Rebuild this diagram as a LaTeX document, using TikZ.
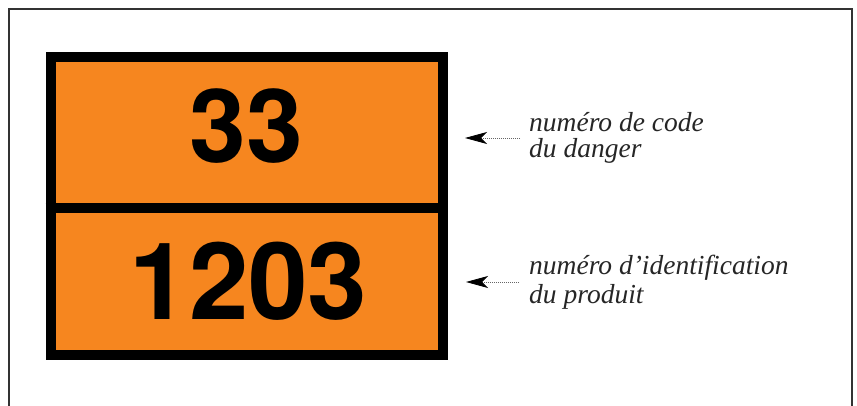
\documentclass[tikz,border=0pt]{standalone}
\usepackage{fontspec}
\newfontfamily\platefont{TeX Gyre Heros}
\newfontfamily\labelfont{Liberation Serif}
\usetikzlibrary{arrows.meta}
\definecolor{adrorange}{RGB}{246,134,31}
\tikzset{
  frameline/.style={line width=1.3pt, black!80},
  plate/.style={line width=10pt, draw=black, fill=adrorange},
  num/.style={inner sep=0pt, anchor=base, font=\platefont\bfseries\fontsize{102}{102}\selectfont},
  bignum/.style={num, font=\platefont\bfseries\fontsize{107}{107}\selectfont},
  lbl/.style={inner sep=0pt, anchor=base west, font=\labelfont\itshape\fontsize{27.5}{27.5}\selectfont, text=black!85},
  pointer/.style={line width=0.8pt, black!60, dash pattern=on 0.8pt off 1.2pt,
    -{Stealth[length=22pt, width=12pt, inset=6pt, black]}}
}
\begin{document}
\begin{tikzpicture}[x=1pt,y=-1pt]
\useasboundingbox (0,0) rectangle (857,406);
\draw[frameline] (9,406) -- (9,9) -- (852,9) -- (852,406);
\draw[plate] (50.7,57.3) rectangle (442.7,355.3);
\draw[line width=10pt] (45.7,208.3) -- (447.7,208.3);
\node[num] (n33) at (246,163) {33};
\node[bignum] (n1203) at (248.5,319) {1203};
\node[lbl] (l1a) at (529,132) {numéro de code};
\node[lbl] (l1b) at (529,158) {du danger};
\node[lbl] (l2a) at (529,275) {numéro d’identification};
\node[lbl] (l2b) at (529,303) {du produit};
\coordinate (s1) at (520,138);
\coordinate (e1) at (465,138);
\coordinate (s2) at (519,282);
\coordinate (e2) at (466,282);
\draw[pointer] (s1) -- (e1);
\draw[pointer] (s2) -- (e2);
\end{tikzpicture}
\end{document}
